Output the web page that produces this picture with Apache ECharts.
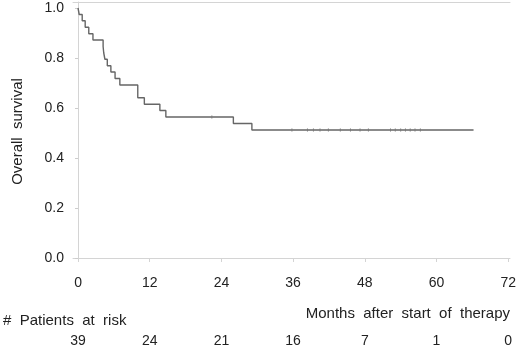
<!DOCTYPE html>
<html>
<head>
<meta charset="utf-8">
<script src="https://cdn.jsdelivr.net/npm/echarts@6/dist/echarts.min.js"></script>
<style>
  html, body { margin: 0; padding: 0; background: #fff; }
  #chart { width: 520px; height: 349px; }
</style>
</head>
<body>
<div id="chart"></div>
<script>
// Kaplan-Meier step points (months, survival)
var stepMonths = [0, 0.2, 0.7, 1.2, 1.8, 2.5, 4.2, 4.3, 4.5, 4.9, 5.5, 6.2, 7.0, 10.0, 11.1, 13.7, 14.7, 26.0, 29.1, 66.2];
var stepSurvival = [1.0, 0.974, 0.949, 0.923, 0.897, 0.872, 0.846, 0.821, 0.795, 0.769, 0.744, 0.718, 0.692, 0.641, 0.615, 0.590, 0.564, 0.538, 0.512, 0.512];

// censored observations (months)
var censorMonths = [22.4, 35.8, 38.4, 39.4, 40.5, 41.9, 43.9, 45.6, 47.2, 48.6, 52.3, 53.1, 54.0, 54.8, 55.6, 56.4, 57.3];

var xTicks = [0, 12, 24, 36, 48, 60, 72];
var yTicks = [0, 0.2, 0.4, 0.6, 0.8, 1.0];
var atRisk = [39, 24, 21, 16, 7, 1, 0];

var font = 'Liberation Sans, Arial, sans-serif';
var textColor = '#222';
var frameColor = '#d4d4d4';

function survivalAt(m) {
    var s = stepSurvival[0];
    for (var i = 0; i < stepMonths.length; i++) {
        if (stepMonths[i] <= m) s = stepSurvival[i];
    }
    return s;
}

var curve = stepMonths.map(function (m, i) { return [m, stepSurvival[i]]; });
var censors = censorMonths.map(function (m) { return [m, survivalAt(m)]; });

var chart = echarts.init(document.getElementById('chart'), null, { renderer: 'canvas' });

var xMin = -0.84, xMax = 72.3;

chart.setOption({
    animation: false,
    grid: { left: 73, right: 10, top: 2, bottom: 88 },
    xAxis: [{
        type: 'value', min: xMin, max: xMax, position: 'bottom',
        axisLine: { show: true, lineStyle: { color: frameColor, width: 1 } },
        axisTick: { show: true, length: 4, lineStyle: { color: frameColor }, customValues: xTicks },
        axisLabel: { customValues: xTicks, margin: 15, color: textColor, fontSize: 14, fontFamily: font },
        splitLine: { show: false }
    }, {
        // patients at risk row
        type: 'value', min: xMin, max: xMax, position: 'bottom', offset: 70,
        axisLine: { show: false }, axisTick: { show: false },
        axisLabel: {
            customValues: xTicks, margin: 3, color: textColor, fontSize: 14, fontFamily: font,
            formatter: function (v) { return String(atRisk[xTicks.indexOf(v)]); }
        },
        splitLine: { show: false }
    }, {
        // top frame
        type: 'value', min: xMin, max: xMax, position: 'top',
        axisLine: { show: true, lineStyle: { color: frameColor } },
        axisTick: { show: false }, axisLabel: { show: false }, splitLine: { show: false }
    }],
    yAxis: [{
        type: 'value', min: -0.012, max: 1.024,
        name: 'Overall  survival', nameLocation: 'middle', nameRotate: 90, nameGap: 48,
        nameTextStyle: { color: textColor, fontSize: 15, fontFamily: font },
        axisLine: { show: true, lineStyle: { color: '#bbb', type: [2, 2] } },
        axisTick: { show: true, length: 3, lineStyle: { color: '#ccc' }, customValues: yTicks },
        axisLabel: {
            customValues: yTicks, margin: 9, color: textColor, fontSize: 14, fontFamily: font,
            formatter: function (v) { return v.toFixed(1); }
        },
        splitLine: { show: false }
    }, {
        // right frame
        type: 'value', min: -0.012, max: 1.024, position: 'right',
        axisLine: { show: true, lineStyle: { color: frameColor } },
        axisTick: { show: false }, axisLabel: { show: false }, splitLine: { show: false }
    }],
    graphic: [{
        type: 'text', left: 3, top: 313,
        style: { text: '#  Patients  at  risk', fill: textColor, font: '15px ' + font }
    }, {
        type: 'text', right: 10, top: 306,
        style: { text: 'Months  after  start  of  therapy', fill: textColor, font: '15px ' + font }
    }],
    series: [{
        type: 'line', step: 'end', data: curve,
        symbol: 'none', lineStyle: { color: '#666', width: 1.4 }
    }, {
        type: 'scatter', data: censors,
        symbol: 'rect', symbolSize: [1, 4],
        itemStyle: { color: '#aaa' }
    }]
});
</script>
</body>
</html>
